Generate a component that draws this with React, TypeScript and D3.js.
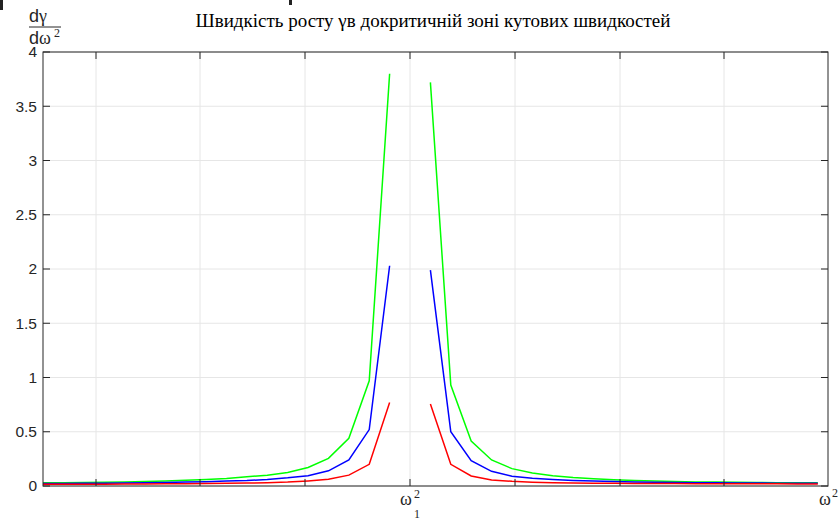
import React from "react";
import * as d3 from "d3";

// x positions (sample index along ω², the singular point ω1² at index 18 is skipped)
const xLeft = [0, 1, 2, 3, 4, 5, 6, 7, 8, 9, 10, 11, 12, 13, 14, 15, 16, 17];
const xRight = [19, 20, 21, 22, 23, 24, 25, 26, 27, 28, 29, 30, 31, 32, 33, 34, 35, 36, 37, 38];

const greenLeft = [0.03, 0.031, 0.033, 0.035, 0.038, 0.042, 0.046, 0.052, 0.06, 0.07, 0.085, 0.1, 0.125, 0.17, 0.255, 0.44, 0.97, 3.8];
const blueLeft = [0.023, 0.024, 0.025, 0.026, 0.028, 0.03, 0.033, 0.036, 0.04, 0.045, 0.05, 0.06, 0.075, 0.095, 0.14, 0.24, 0.52, 2.03];
const redLeft = [0.015, 0.016, 0.016, 0.017, 0.018, 0.019, 0.02, 0.021, 0.023, 0.025, 0.027, 0.03, 0.036, 0.047, 0.062, 0.1, 0.2, 0.77];

const greenRight = [3.72, 0.93, 0.415, 0.24, 0.16, 0.12, 0.095, 0.078, 0.066, 0.057, 0.05, 0.045, 0.041, 0.038, 0.036, 0.034, 0.032, 0.031, 0.03, 0.029];
const blueRight = [1.99, 0.5, 0.233, 0.135, 0.09, 0.072, 0.06, 0.051, 0.045, 0.041, 0.037, 0.034, 0.032, 0.03, 0.029, 0.028, 0.027, 0.026, 0.026, 0.025];
const redRight = [0.755, 0.2, 0.092, 0.056, 0.043, 0.035, 0.03, 0.028, 0.026, 0.025, 0.024, 0.023, 0.022, 0.021, 0.021, 0.02, 0.02, 0.02, 0.019, 0.019];

const xTicks = [2.6, 7.7, 12.85, 18, 23.15, 28.3, 33.4];
const yTicks = [0, 0.5, 1, 1.5, 2, 2.5, 3, 3.5, 4];
const yTickLabels = ["0", "0.5", "1", "1.5", "2", "2.5", "3", "3.5", "4"];
const xCritical = 18;
const xMax = 38.5;

const title = "Швидкість росту γв докритичній зоні кутових швидкостей";

const series = [
  { color: "#00ff00", left: greenLeft, right: greenRight },
  { color: "#0000ff", left: blueLeft, right: blueRight },
  { color: "#ff0000", left: redLeft, right: redRight },
];

export default function App() {
  const W = 838;
  const H = 521;
  const m = { left: 43, right: 10, top: 52, bottom: 35 };
  const x = d3.scaleLinear().domain([0, xMax]).range([m.left, W - m.right]);
  const y = d3.scaleLinear().domain([0, 4]).range([H - m.bottom, m.top]);
  const line = d3
    .line<[number, number]>()
    .x((d) => x(d[0]))
    .y((d) => y(d[1]));
  const axisColor = "#262626";
  const gridColor = "#e6e6e6";
  const serif = "'Liberation Serif', 'Times New Roman', serif";
  const sans = "'Liberation Sans', Arial, sans-serif";
  const x0 = x(0);
  const x1 = x(xMax);
  const y0 = y(0);
  const y1 = y(4);
  const tl = 7;

  return (
    <svg
      width={W}
      height={H}
      style={{ position: "absolute", left: 0, top: 0, background: "#fff" }}
    >
      <rect x={0} y={0} width={W} height={H} fill="#fff" />
      {/* small artifacts at the top edge */}
      <rect x={0} y={0} width={3} height={10} fill="#222" />
      <rect x={289} y={0} width={3} height={5} fill="#222" />

      {/* grid */}
      {xTicks.map((t) => (
        <line key={"gx" + t} x1={x(t)} x2={x(t)} y1={y0} y2={y1} stroke={gridColor} strokeWidth={1} />
      ))}
      {yTicks.map((t) => (
        <line key={"gy" + t} x1={x0} x2={x1} y1={y(t)} y2={y(t)} stroke={gridColor} strokeWidth={1} />
      ))}

      {/* lines */}
      {series.map((s) => (
        <g key={s.color}>
          <path
            d={line(xLeft.map((v, i) => [v, s.left[i]] as [number, number])) || ""}
            fill="none"
            stroke={s.color}
            strokeWidth={1.5}
          />
          <path
            d={line(xRight.map((v, i) => [v, s.right[i]] as [number, number])) || ""}
            fill="none"
            stroke={s.color}
            strokeWidth={1.5}
          />
        </g>
      ))}

      {/* box */}
      <rect x={x0} y={y1} width={x1 - x0} height={y0 - y1} fill="none" stroke={axisColor} strokeWidth={1} />

      {/* ticks */}
      {xTicks.map((t) => (
        <g key={"tx" + t}>
          <line x1={x(t)} x2={x(t)} y1={y0} y2={y0 - tl} stroke={axisColor} />
          <line x1={x(t)} x2={x(t)} y1={y1} y2={y1 + tl} stroke={axisColor} />
        </g>
      ))}
      {yTicks.map((t, i) => (
        <g key={"ty" + t}>
          <line x1={x0} x2={x0 + tl} y1={y(t)} y2={y(t)} stroke={axisColor} />
          <line x1={x1} x2={x1 - tl} y1={y(t)} y2={y(t)} stroke={axisColor} />
          <text
            x={x0 - 6}
            y={y(t)}
            dy="0.35em"
            textAnchor="end"
            fontFamily={sans}
            fontSize={15.5}
            fill={axisColor}
          >
            {yTickLabels[i]}
          </text>
        </g>
      ))}

      {/* x labels */}
      <text x={x(xCritical) - 10} y={505} fontFamily={serif} fontSize={18} fill={axisColor}>
        ω
        <tspan x={x(xCritical) + 4} y={498} fontSize={12}>2</tspan>
        <tspan x={x(xCritical) + 4} y={518} fontSize={12}>1</tspan>
      </text>
      <text x={x(xMax) - 9} y={505} fontFamily={serif} fontSize={18} fill={axisColor}>
        ω
        <tspan x={x(xMax) + 4} y={497} fontSize={12}>2</tspan>
      </text>

      {/* y label fraction */}
      <text x={29} y={22} fontSize={18} fill={axisColor}>
        <tspan fontFamily={sans}>d</tspan>
        <tspan fontFamily={serif}>γ</tspan>
      </text>
      <line x1={29} x2={61} y1={27} y2={27} stroke={axisColor} strokeWidth={1} />
      <text x={29} y={44} fontSize={18} fill={axisColor}>
        <tspan fontFamily={sans}>d</tspan>
        <tspan fontFamily={serif}>ω</tspan>
        <tspan fontFamily={serif} fontSize={12} x={54} y={37}>2</tspan>
      </text>

      {/* title */}
      <text x={433} y={27} textAnchor="middle" fontFamily={serif} fontSize={19} fill="#000">
        {title}
      </text>
    </svg>
  );
}
